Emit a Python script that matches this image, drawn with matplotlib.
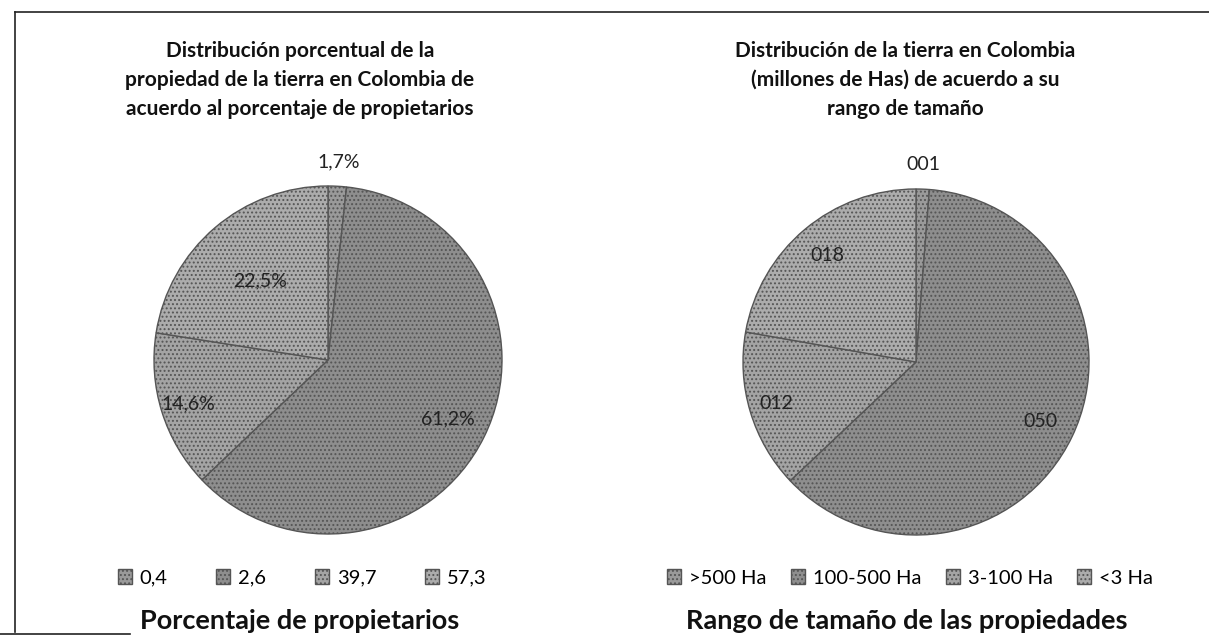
import matplotlib
matplotlib.use("Agg")
import numpy as np
import matplotlib.pyplot as plt
from matplotlib.lines import Line2D

plt.rcParams['font.family'] = ['Lato', 'DejaVu Sans']
plt.rcParams['hatch.color'] = "#666666"
plt.rcParams['hatch.linewidth'] = 0.9

# left chart: share of land vs share of owners
left_values = [1.7, 61.2, 14.6, 22.5]
left_labels = ["1,7%", "61,2%", "14,6%", "22,5%"]
left_legend = ["0,4", "2,6", "39,7", "57,3"]

# right chart: land (millions of Has) by size range
right_values = [1, 50, 12, 18]
right_labels = ["001", "050", "012", "018"]
right_legend = [">500 Ha", "100-500 Ha", "3-100 Ha", "<3 Ha"]

W, H = 1209, 638
fig = plt.figure(figsize=(W / 100, H / 100), dpi=100)

greys = ["#9a9a9a", "#8e8e8e", "#a4a4a4", "#acacac"]


def fx(x):
    return x / W


def fy(y):
    return 1 - y / H


def draw_pie(cx, cy, r, values, labels, dists):
    side = 2.5 * r
    ax = fig.add_axes([fx(cx - side / 2), fy(cy + side / 2), side / W, side / H])
    wedges, texts = ax.pie(values, labels=labels, startangle=90, counterclock=False,
                           colors=greys, labeldistance=1.0,
                           wedgeprops=dict(edgecolor="#555555", linewidth=1.0),
                           textprops=dict(fontsize=14, color="#222222"))
    for w in wedges:
        w.set_hatch("....")
    for w, t, d in zip(wedges, texts, dists):
        ang = np.deg2rad((w.theta1 + w.theta2) / 2)
        t.set_position((d * np.cos(ang), d * np.sin(ang)))
        t.set_ha("center")
        t.set_va("center")
    ax.set_xlim(-1.25, 1.25)
    ax.set_ylim(-1.25, 1.25)
    ax.set_aspect("equal")
    return wedges


lw = draw_pie(328, 360, 174, left_values, left_labels, [1.14, 0.77, 0.84, 0.6])
rw = draw_pie(916, 362, 173, right_values, right_labels, [1.14, 0.8, 0.84, 0.8])

title_kw = dict(ha="center", va="center", fontsize=15, fontweight="bold", color="#111111",
                linespacing=1.55)
fig.text(fx(300), fy(80), "Distribución porcentual de la\npropiedad de la tierra en Colombia de\nacuerdo al porcentaje de propietarios", **title_kw)
fig.text(fx(905), fy(80), "Distribución de la tierra en Colombia\n(millones de Has) de acuerdo a su\nrango de tamaño", **title_kw)

fig.legend(lw, left_legend, loc="center", bbox_to_anchor=(fx(302), fy(578)), ncol=4,
           frameon=False, fontsize=14.5, handlelength=0.7, handleheight=0.7,
           handletextpad=0.4, columnspacing=2.4)
fig.legend(rw, right_legend, loc="center", bbox_to_anchor=(fx(910), fy(578)), ncol=4,
           frameon=False, fontsize=14.5, handlelength=0.7, handleheight=0.7,
           handletextpad=0.4, columnspacing=1.2)

fig.text(fx(300), fy(621), "Porcentaje de propietarios", ha="center", va="center",
         fontsize=19.5, fontweight="bold", color="#111111")
fig.text(fx(907), fy(621), "Rango de tamaño de las propiedades", ha="center", va="center",
         fontsize=19.5, fontweight="bold", color="#111111")

# scanned frame
fig.add_artist(Line2D([fx(15), fx(1209)], [fy(12), fy(12)], color="#222222", linewidth=1.2))
fig.add_artist(Line2D([fx(15), fx(15)], [fy(12), fy(632)], color="#222222", linewidth=1.2))
fig.add_artist(Line2D([fx(0), fx(130)], [fy(634), fy(634)], color="#222222", linewidth=1.2))

fig.savefig("out.png", dpi=100)
